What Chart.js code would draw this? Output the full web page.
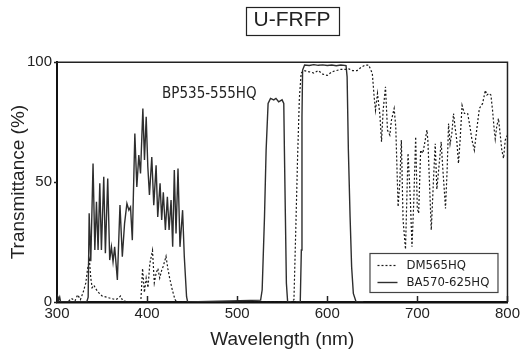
<!DOCTYPE html>
<html><head><meta charset="utf-8">
<script src="https://cdn.jsdelivr.net/npm/chart.js@4.4.1/dist/chart.umd.min.js"></script>
<style>html,body{margin:0;padding:0;background:#fff}</style>
</head><body>
<canvas id="c" width="523" height="358"></canvas>
<script>
// ---- data (wavelength in nm, transmittance in %) ----
const bpWavelength = [300,301,302,303,304,333,334.6,335.7,337.5,340,342,343.8,345.6,347.5,349.3,351.9,353.7,356.3,358.5,360.4,362.2,364,367,369.9,372.5,375,377.6,379.8,381.6,383.6,386.4,388.6,390.8,392.7,395.3,397.1,399,400.8,402.6,405.2,407.4,410,411.8,414.4,416.2,418,420.3,422.5,424.4,426.6,428.4,430.2,432.1,434.3,436.5,439.4,441.3,443.8,445,526,527.7,530.3,532.1,534.3,537,540.6,543,546,549.8,551.7,552.4,553.5,554.6,556,560];
const bpTransmittance = [0,2,1,2,0,0,2,37,17,57.8,21.7,41.8,21.7,49.5,21.7,52.2,20.3,51.5,17.5,23,16.8,23,9.2,40.4,18.9,32.8,41.1,38.3,39.6,25.8,70.3,48,61.3,53.6,80.7,59.2,77.2,56.4,44.6,60.5,40.4,57,35.5,49.5,34.2,45.8,30,43.9,30,42.5,23,55,28.6,55.7,23,38.3,18.9,2.2,0,0.8,5,35.5,63.3,82.8,84.9,84.3,84.9,83.5,84.3,82.8,63.3,35.5,7.8,0,0];

const dmWavelength = [300,312,316,320,323,326,329,332,334,336,337.5,339,341,343,346,350,355,360,365,368,370.5,373,380,393,395,397,399,401,403,406,408,410,412,414,416,418,421,423,425,428,431,433,560,563,565,567,569,571,574,580,585,590,595,600,605,610,615,620,624,628,633,638,642,646,650,652,653.5,655.7,658.4,660.2,662,664.6,666.8,669.4,671.2,674.2,676,678.6,680.5,682.2,684.1,686.8,689.6,692.2,694,695.9,698.1,699.9,701.4,703.6,706,708,710.6,711.7,713.6,715.4,718,719.8,721.6,724.6,726.4,728.3,730.1,731.2,733,734.6,736.3,738.2,740.1,741.8,743.7,745.6,747.4,749.6,752.2,755.8,758.4,760.6,763.2,765.8,768.8,772.4,775.4,777.2,779.4,781.6,783.4,785.3,786.4,788,790,791.8,793.7,795.6,797.5,800];
const dmTransmittance = [0,0,1.5,0.5,3,1,4,8,14,17.5,10,6,7,5.5,4,2.5,2,1.5,1,1.5,2.5,0.5,0,0,14,4,10,6,16,21.5,8,12,14,10,13,15,19,14,10,5,1,0,0,1,30,60,85,95.5,96.5,96,95.5,96.5,95,94.5,96,96.5,97,97,97.2,96.5,96.5,98,98.8,98.8,95.3,85.5,80,87,78,66.8,80,89.7,71.7,69.6,75.8,80.7,73,39.7,50,67.5,34.2,22,62,42.5,23,41.1,68.9,39,37,63.3,62,66,71.7,67,48,30,52,66,47,59.2,66.8,55,45.3,39,55,74.4,66,70.3,78.6,73,67.5,57.8,67.5,82,78.6,78.6,73,67.5,63.3,71.7,80.7,82.8,88.3,86.3,87,86.3,80,71.7,68,73,76.5,70.3,63.3,59.9,67.5,69.6];

const baWavelength = [565,570,571.2,571.9,572.6,574.8,580,585,590,595,600,605,610,615,620.8,622,623.4,625.3,627,628.9,632,640];
const baTransmittance = [0,0,21.7,77,96.7,98.8,98.6,99,98.7,98.9,98.6,98.8,98.5,98.8,98.6,93.9,63.3,35.5,14.7,3.6,0,0];

const xTickValues = [300,400,500,600,700,800];
const yTickValues = [0,50,100];
const seriesLabels = ['BP535-555HQ','DM565HQ','BA570-625HQ'];
const legendLabels = ['DM565HQ','BA570-625HQ'];
const annotationText = 'BP535-555HQ';
const annotationAnchor = [526, 86.5]; // wavelength, %

function pts(xs, ys){ return xs.map((x,i)=>({x:x, y:ys[i]})); }

const NARROW = '"DejaVu Sans Condensed","Liberation Sans Narrow",sans-serif';
const SANS = '"Liberation Sans",Arial,Helvetica,sans-serif';

const framePlugin = {
  id:'frame',
  afterLayout(chart){
    const t = chart.titleBlock;
    if(t){ t.left += 37; t.right += 37; }
  },
  afterDatasetsDraw(chart){
    const ctx = chart.ctx, a = chart.chartArea;
    const xs = chart.scales.x, ys = chart.scales.y;
    ctx.save();
    ctx.strokeStyle = '#222';
    ctx.lineWidth = 1.5;
    ctx.beginPath();
    ctx.moveTo(a.left, a.top); ctx.lineTo(a.right, a.top); ctx.lineTo(a.right, a.bottom);
    ctx.stroke();
    xTickValues.forEach(v=>{
      const px = Math.round(xs.getPixelForValue(v))+0.5;
      ctx.beginPath(); ctx.moveTo(px, a.bottom); ctx.lineTo(px, a.bottom-6); ctx.stroke();
    });
    yTickValues.forEach(v=>{
      const py = Math.round(ys.getPixelForValue(v))+0.5;
      ctx.beginPath(); ctx.moveTo(a.left, py); ctx.lineTo(a.left-3, py); ctx.stroke();
    });
    ctx.fillStyle = '#222';
    ctx.font = '15px ' + NARROW;
    ctx.textAlign = 'right'; ctx.textBaseline = 'middle';
    ctx.fillText(annotationText, xs.getPixelForValue(annotationAnchor[0]) - 4, ys.getPixelForValue(annotationAnchor[1]));
    const bw = 128, bh = 39;
    const bx = a.right - 10 - bw, by = a.bottom - 10 - bh;
    ctx.fillStyle = '#fff';
    ctx.fillRect(bx, by, bw, bh);
    ctx.lineWidth = 1.2; ctx.strokeStyle = '#444';
    ctx.strokeRect(bx+0.5, by+0.5, bw, bh);
    ctx.font = '13px ' + NARROW;
    ctx.textAlign = 'left';
    let row = 0;
    chart.data.datasets.forEach(ds=>{
      if(!legendLabels.includes(ds.label)) return;
      const ly = by + 12 + row*17;
      ctx.strokeStyle = ds.borderColor; ctx.lineWidth = ds.borderWidth;
      ctx.setLineDash(ds.borderDash || []);
      ctx.beginPath(); ctx.moveTo(bx+8, ly+0.5); ctx.lineTo(bx+28, ly+0.5); ctx.stroke();
      ctx.setLineDash([]);
      ctx.fillStyle = '#222';
      ctx.fillText(ds.label, bx+37, ly+1);
      row++;
    });
    ctx.restore();
  },
  afterDraw(chart){
    const t = chart.titleBlock; if(!t) return;
    const ctx = chart.ctx;
    const o = chart.options.plugins.title;
    const f = Chart.helpers.toFont(o.font);
    ctx.save();
    ctx.font = f.string;
    const w = ctx.measureText(o.text).width;
    const cx = (t.left + t.right)/2;
    const cy = t.top + o.padding.top + f.lineHeight/2;
    ctx.strokeStyle = '#222'; ctx.lineWidth = 1.2;
    ctx.strokeRect(Math.round(cx - w/2 - 8)+0.5, Math.round(cy - 14)+0.5, Math.round(w + 16), 28);
    ctx.restore();
  }
};

new Chart(document.getElementById('c'), {
  type:'line',
  data:{ datasets:[
    { label:seriesLabels[0], data:pts(bpWavelength,bpTransmittance), borderColor:'#2e2e2e', borderWidth:1.4, pointRadius:0, tension:0, fill:false },
    { label:seriesLabels[1], data:pts(dmWavelength,dmTransmittance), borderColor:'#1a1a1a', borderWidth:1.2, borderDash:[2,2], pointRadius:0, tension:0, fill:false },
    { label:seriesLabels[2], data:pts(baWavelength,baTransmittance), borderColor:'#2e2e2e', borderWidth:1.4, pointRadius:0, tension:0, fill:false }
  ]},
  options:{
    responsive:false, animation:false,
    layout:{ padding:{ left:0, right:13, top:0, bottom:0 } },
    plugins:{
      legend:{ display:false },
      tooltip:{ enabled:false },
      title:{ display:true, text:'U-FRFP', color:'#222', font:{ family:SANS, size:21, weight:'normal' }, padding:{ top:8, bottom:29 } }
    },
    scales:{
      x:{ type:'linear', min:300, max:800,
        afterFit(s){ s.height = 56; },
        afterBuildTicks(s){ s.ticks = xTickValues.map(v=>({value:v})); },
        grid:{ display:true, drawOnChartArea:false, drawTicks:false },
        border:{ display:true, color:'#111', width:2.5 },
        ticks:{ color:'#222', padding:3, maxRotation:0, font:{ family:SANS, size:15 } },
        title:{ display:true, text:'Wavelength (nm)', color:'#222', font:{ family:SANS, size:19 }, padding:{ top:0, bottom:7 } }
      },
      y:{ type:'linear', min:0, max:100,
        afterFit(s){ s.width = 57; },
        afterBuildTicks(s){ s.ticks = yTickValues.map(v=>({value:v})); },
        grid:{ display:true, drawOnChartArea:false, drawTicks:false },
        border:{ display:true, color:'#111', width:2 },
        ticks:{ color:'#222', padding:5, font:{ family:SANS, size:15 } },
        title:{ display:true, text:'Transmittance (%)', color:'#222', font:{ family:SANS, size:19 }, padding:{ top:7, bottom:0 } }
      }
    }
  },
  plugins:[framePlugin]
});
</script>
</body></html>
